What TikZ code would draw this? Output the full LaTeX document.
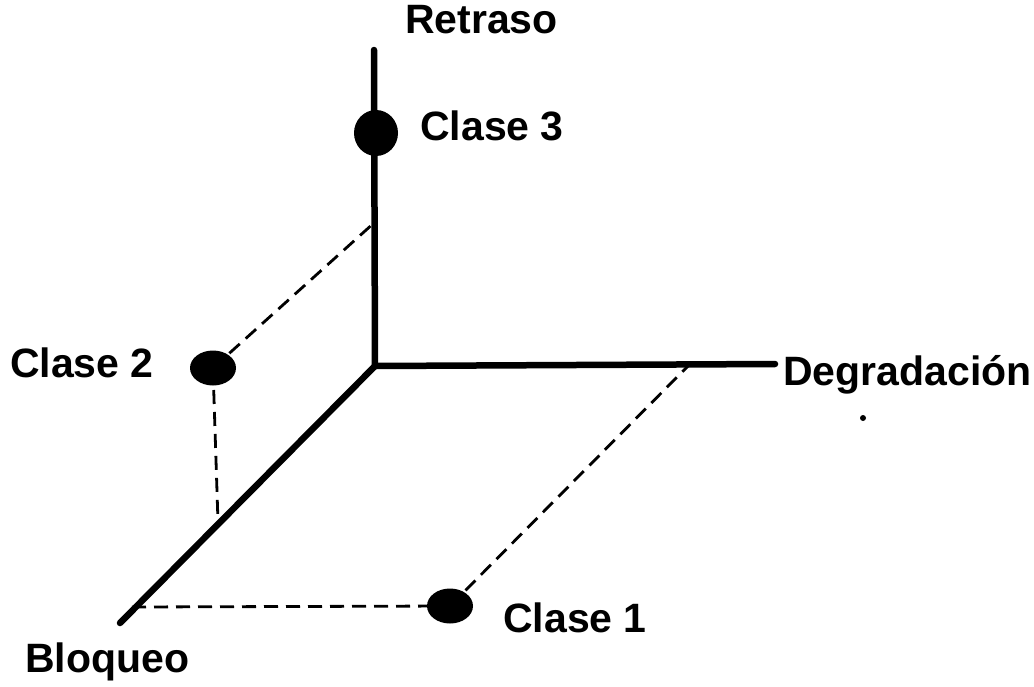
\documentclass[tikz,border=0pt]{standalone}
\usepackage{fontspec}
\setmainfont{Liberation Sans}
\begin{document}
\begin{tikzpicture}[x=1pt,y=-1pt,
  axis/.style={line width=6.5pt, line cap=round},
  dashline/.style={line width=2.8pt, dash pattern=on 14pt off 8pt},
  lab/.style={anchor=base west, inner sep=0pt, font=\fontsize{41}{48}\selectfont\bfseries}]
\useasboundingbox (0,0) rectangle (1034,686);
% axes
\coordinate (O) at (375,366);
\coordinate (Ztop) at (374,50);
\coordinate (Xend) at (775,364);
\coordinate (Yend) at (120,623);
\draw[axis] (O) -- (Ztop);
\draw[axis] (O) -- (Xend);
\draw[axis] (O) -- (Yend);
% points
\coordinate (p3) at (376,133);
\coordinate (p2) at (213,368);
\coordinate (p1) at (450,606);
\coordinate (zproj) at (375,222);
\coordinate (yproj) at (218,522);
\coordinate (bproj) at (132,607);
\coordinate (xproj) at (690,364);
\draw[dashline] (p2) -- (zproj);
\draw[dashline] (p2) -- (yproj);
\draw[dashline] (bproj) -- (p1);
\draw[dashline] (p1) -- (xproj);
\fill (p3) ellipse [x radius=22pt, y radius=23pt];
\fill (p2) ellipse [x radius=23pt, y radius=17.5pt];
\fill (p1) ellipse [x radius=23pt, y radius=17.5pt];
\fill (863,418) circle (3pt);
% labels
\node[lab] (retraso) at (405,33) {Retraso};
\node[lab] (c3) at (420,140) {Clase 3};
\node[lab] (c2) at (10,377) {Clase 2};
\node[lab] (degr) at (783,385) {Degradación};
\node[lab] (c1) at (503,632) {Clase 1};
\node[lab] (bloq) at (25,672) {Bloqueo};
\end{tikzpicture}
\end{document}
